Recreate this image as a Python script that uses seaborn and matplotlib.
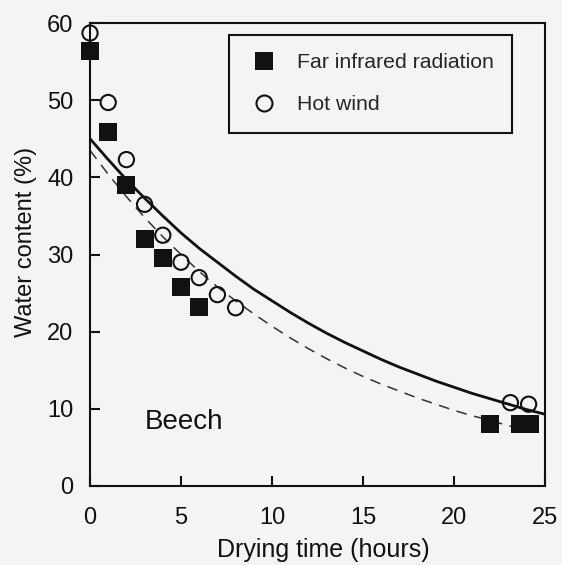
import matplotlib
matplotlib.use("Agg")
import matplotlib.pyplot as plt
from matplotlib.lines import Line2D
import pandas as pd
import seaborn as sns

# ---- data ----
far_t = [0, 1, 2, 3, 4, 5, 6, 22, 23.6, 24.2]
far_w = [56.4, 45.9, 39.0, 32.0, 29.5, 25.8, 23.2, 8.0, 8.0, 8.0]
hot_t = [0, 1, 2, 3, 4, 5, 6, 7, 8, 23.1, 24.1]
hot_w = [58.7, 49.7, 42.3, 36.5, 32.5, 29.0, 27.0, 24.8, 23.1, 10.8, 10.6]

# fitted curves as drawn in the picture (values read at each hour)
hot_fit_t = list(range(0, 26))
hot_fit_w = [45.0, 42.3, 39.7, 37.3, 35.0, 32.8, 30.8, 29.0, 27.2, 25.5,
             24.0, 22.5, 21.1, 19.8, 18.6, 17.5, 16.4, 15.4, 14.5, 13.6,
             12.8, 12.0, 11.3, 10.6, 9.9, 9.3]
far_fit_t = list(range(0, 25))
far_fit_w = [43.5, 40.4, 37.5, 34.8, 32.3, 30.0, 27.8, 25.8, 24.0, 22.3,
             20.7, 19.2, 17.8, 16.5, 15.3, 14.2, 13.2, 12.3, 11.4, 10.6,
             9.8, 9.1, 8.5, 7.8, 7.3]

series_labels = ["Far infrared radiation", "Hot wind"]
x_ticks = [0, 5, 10, 15, 20, 25]
y_ticks = [0, 10, 20, 30, 40, 50, 60]
x_label = "Drying time (hours)"
y_label = "Water content (%)"
panel_label = "Beech"

bg = "#f4f4f6"
ink = "#111111"

sns.set_style("ticks")
plt.rcParams["font.family"] = ["Liberation Sans", "DejaVu Sans"]

fig = plt.figure(figsize=(5.62, 5.65), dpi=100, facecolor=bg)
ax = fig.add_axes([90 / 562, 1 - 486 / 565, 455 / 562, 463 / 565])
ax.set_facecolor(bg)

far_df = pd.DataFrame({"t": far_t, "w": far_w})
hot_df = pd.DataFrame({"t": hot_t, "w": hot_w})
hot_fit = pd.DataFrame({"t": hot_fit_t, "w": hot_fit_w})
far_fit = pd.DataFrame({"t": far_fit_t, "w": far_fit_w})

sns.lineplot(data=hot_fit, x="t", y="w", ax=ax, color=ink, lw=2.0, zorder=2)
sns.lineplot(data=far_fit, x="t", y="w", ax=ax, color="#333333", lw=1.1,
             linestyle=(0, (7, 5)), zorder=2)

sns.scatterplot(data=far_df, x="t", y="w", ax=ax, marker="s", s=150,
                color=ink, edgecolor=ink, linewidth=0, clip_on=False, zorder=3)
sns.scatterplot(data=hot_df, x="t", y="w", ax=ax, marker="o", s=120,
                facecolor="none", edgecolor=ink, linewidth=1.5,
                clip_on=False, zorder=4)

ax.set_xlim(0, 25)
ax.set_ylim(0, 60)
ax.set_xticks(x_ticks)
ax.set_yticks(y_ticks)
ax.tick_params(direction="in", length=7, width=1.5, labelsize=17,
               colors=ink, pad=12)
ax.tick_params(axis="x", pad=15)
for sp in ax.spines.values():
    sp.set_linewidth(1.5)
    sp.set_color(ink)
ax.set_xlabel(x_label, fontsize=18, color=ink)
ax.set_ylabel(y_label, fontsize=17, color=ink)
ax.xaxis.set_label_coords(0.513, -0.112)
ax.yaxis.set_label_coords(-0.117, 0.527)

ax.text(3.0, 7.4, panel_label, fontsize=20, color=ink, ha="left",
        va="baseline")

handles = [
    Line2D([], [], marker="s", linestyle="none", markersize=12.5,
           markerfacecolor=ink, markeredgecolor=ink, markeredgewidth=0),
    Line2D([], [], marker="o", linestyle="none", markersize=11.5,
           markerfacecolor="none", markeredgecolor=ink, markeredgewidth=1.5),
]
leg = ax.legend(handles, series_labels, loc="upper left",
                bbox_to_anchor=(0.306, 0.974), fontsize=15.3,
                frameon=True, fancybox=False, framealpha=1, facecolor=bg,
                edgecolor=ink, borderpad=0.85, handlelength=1.6,
                handletextpad=0.75, labelspacing=1.1, borderaxespad=0)
leg.get_frame().set_linewidth(1.5)

fig.savefig("out.png", dpi=100, facecolor=bg)
